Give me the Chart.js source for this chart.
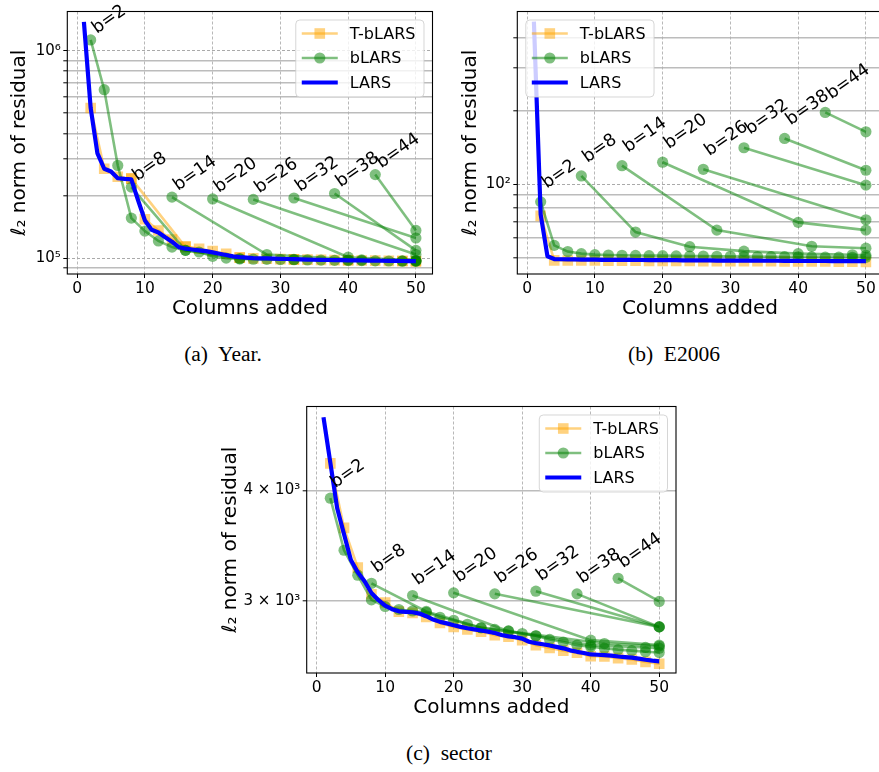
<!DOCTYPE html>
<html><head><meta charset="utf-8">
<script src="https://cdn.jsdelivr.net/npm/chart.js@4.4.1/dist/chart.umd.min.js"></script>
<style>
html,body{margin:0;padding:0;background:#fff;overflow:hidden;width:879px;height:772px;}
.panel{position:absolute;}
.panel canvas{display:block;}
.cap{position:absolute;font-family:"Liberation Serif","Times New Roman",serif;font-size:20.5px;color:#000;white-space:pre;transform:translate(-50%,-50%) scaleX(1.05);}
</style></head><body>
<div class="panel" style="left:0px;top:0px;"><canvas id="cA" width="440" height="330"></canvas></div>
<div class="panel" style="left:440px;top:0px;"><canvas id="cB" width="450" height="330"></canvas></div>
<div class="panel" style="left:205px;top:395px;"><canvas id="cC" width="480" height="334"></canvas></div>
<div class="cap" style="left:223px;top:354px;">(a)  Year.</div>
<div class="cap" style="left:674px;top:354px;">(b)  E2006</div>
<div class="cap" style="left:449px;top:753px;">(c)  sector</div>
<script>
// ---------------- data ----------------
const columns = [1,2,3,4,5,6,7,8,9,10,11,12,13,14,15,16,17,18,19,20,21,22,23,24,25,26,27,28,29,30,31,32,33,34,35,36,37,38,39,40,41,42,43,44,45,46,47,48,49,50];
const xTicks = [0,10,20,30,40,50];
const blocks = [2,8,14,20,26,32,38,44];
const runCols2 = [2,4,6,8,10,12,14,16,18,20,22,24,26,28,30,32,34,36,38,40,42,44,46,48,50];
const runCols8 = [8,16,24,32,40,48,50];
const runCols14 = [14,28,42,50];
const runCols20 = [20,40,50];
const runCols26 = [26,50];
const runCols32 = [32,50];
const runCols38 = [38,50];
const runCols44 = [44,50];

// (a) Year
const yearLARS = [1380000,530000,320000,270000,262000,243000,241000,240000,190000,152000,137000,133000,126000,120000,113000,111000,110000,109000,108000,106500,105000,103500,102000,101000,100500,100000,99800,99600,99400,99200,99000,98800,98600,98400,98200,98000,97900,97800,97700,97600,97500,97400,97300,97200,97100,97000,96900,96800,96700,96600];
const yearTb2 = [530000,270000,247000,242000,154000,136000,123000,114000,111000,108000,105000,100500,99700,99300,98900,98600,98300,98000,97800,97600,97400,97200,97000,96800,96500];
const yearTb8 = [242000,113000,100500,98600,97600,96800,96500];
const yearB2 = [1130000,650000,280000,156000,135000,121000,113000,109000,107000,102000,100000,99000,98800,98600,98400,98200,98000,97800,97600,97400,97200,97000,96800,96600,96400];
const yearB8 = [220000,109000,99500,98500,97800,97000,96800];
const yearB14 = [197000,104000,98000,97000];
const yearB20 = [193000,101000,97500];
const yearB26 = [192000,104000];
const yearB32 = [195000,125000];
const yearB38 = [205000,109000];
const yearB44 = [253000,136000];
const yTicksYear = [90000,100000,200000,300000,400000,500000,600000,700000,800000,900000,1000000];
const yLabelsYear = ['','10\u2075','','','','','','','','','10\u2076'];

// (b) E2006
const e2006LARS = [465,75,50.5,49.2,49.1,49.0,49.0,48.95,48.9,48.9,48.85,48.85,48.8,48.8,48.8,48.75,48.75,48.7,48.7,48.7,48.65,48.65,48.6,48.6,48.6,48.55,48.55,48.5,48.5,48.5,48.5,48.45,48.45,48.45,48.4,48.4,48.4,48.35,48.35,48.35,48.3,48.3,48.3,48.3,48.25,48.25,48.25,48.2,48.2,48.2];
const e2006Tb2 = [74,48.6,48.55,48.5,48.5,48.45,48.4,48.4,48.35,48.35,48.3,48.3,48.25,48.25,48.2,48.2,48.15,48.15,48.1,48.1,48.05,48.05,48.0,48.0,47.9];
const e2006B2 = [84.5,56,52.8,51.8,51.3,51.1,51.0,50.9,50.8,50.8,50.7,50.6,50.6,50.5,50.5,50.4,50.4,50.3,50.3,50.2,50.2,50.1,50.1,50.0,50.0];
const e2006B8 = [108,63.5,55.3,53.0,51.8,51.2,51.0];
const e2006B14 = [119,64.7,55.5,54.5];
const e2006B20 = [123,69.6,64.7];
const e2006B26 = [115,71.3];
const e2006B32 = [141,99];
const e2006B38 = [154,114];
const e2006B44 = [197,164];
const yTicksE2006 = [50,60,70,80,90,100,200,300,400];
const yLabelsE2006 = ['','','','','','10\u00b2','','',''];

// (c) sector
const sectorLARS = [4840,4300,3820,3570,3340,3235,3160,3065,3010,2965,2938,2922,2918,2915,2905,2885,2860,2843,2832,2818,2806,2796,2788,2780,2772,2762,2748,2738,2732,2722,2700,2690,2682,2674,2664,2654,2640,2630,2622,2612,2610,2608,2604,2598,2594,2590,2584,2576,2570,2566];
const sectorTb2 = [4293,3630,3274,3055,2990,2920,2910,2880,2835,2806,2788,2772,2746,2735,2711,2675,2657,2638,2624,2600,2598,2587,2578,2562,2550];
const sectorB2 = [3922,3425,3210,3011,2959,2936,2925,2915,2877,2855,2825,2800,2788,2777,2758,2742,2716,2698,2676,2665,2655,2645,2638,2630,2625];
const sectorB8 = [3143,2921,2800,2742,2676,2660,2655];
const sectorB14 = [3045,2775,2687,2670];
const sectorB20 = [3066,2711,2676];
const sectorB26 = [3058,2806];
const sectorB32 = [3079,2806];
const sectorB38 = [3058,2806];
const sectorB44 = [3184,2998];
const yTicksSector = [3000,4000];
const yLabelsSector = ['3 \u00d7 10\u00b3','4 \u00d7 10\u00b3'];

const xLabel = 'Columns added';
const yLabel = '\u2113\u2082 norm of residual';

// ---------------- styling ----------------
const BLUE = '#0000ff';
const GREEN = 'rgba(0,128,0,0.5)';
const ORANGE = 'rgba(255,165,0,0.5)';
const FONT = '"DejaVu Sans", sans-serif';

function isMajor(v){ const l = Math.log10(v); return Math.abs(l - Math.round(l)) < 1e-9; }

const framePlugin = {
  id: 'frameAndNotes',
  afterDatasetsDraw(chart, args, opts) {
    const ctx = chart.ctx, ca = chart.chartArea;
    ctx.save();
    ctx.strokeStyle = '#000'; ctx.lineWidth = 1.1;
    ctx.strokeRect(ca.left, ca.top, ca.right - ca.left, ca.bottom - ca.top);
    ctx.fillStyle = '#000';
    ctx.font = '17.5px ' + FONT;
    ctx.textAlign = 'left'; ctx.textBaseline = 'alphabetic';
    chart.data.datasets.forEach((ds, i) => {
      if (!ds.bLabel) return;
      const pt = chart.getDatasetMeta(i).data[0];
      ctx.save();
      ctx.translate(pt.x + opts.dx, pt.y + opts.dy);
      ctx.rotate(-35 * Math.PI / 180);
      ctx.fillText(ds.bLabel, 0, 0);
      ctx.restore();
    });
    ctx.restore();
  },
  afterDraw(chart, args, opts) {
    const ctx = chart.ctx, ca = chart.chartArea;
    const seen = {}; const items = [];
    chart.data.datasets.slice().sort((a,b)=>b.order-a.order).forEach(ds => {
      if (seen[ds.label]) return; seen[ds.label] = true; items.push(ds);
    });
    ctx.save();
    ctx.font = '16px ' + FONT;
    const tw = Math.max(...items.map(d => ctx.measureText(d.label).width));
    const w = 54 + tw + 8.5, h = 77;
    const x0 = opts.side === 'left' ? ca.left + 8.5 : ca.right - 8.5 - w;
    const y0 = ca.top + 8.5;
    ctx.beginPath();
    if (ctx.roundRect) ctx.roundRect(x0, y0, w, h, 4); else ctx.rect(x0, y0, w, h);
    ctx.fillStyle = 'rgba(255,255,255,0.8)'; ctx.fill();
    ctx.strokeStyle = 'rgba(204,204,204,0.8)'; ctx.lineWidth = 1; ctx.stroke();
    items.forEach((d, k) => {
      const y = y0 + 13.5 + k * 24.5;
      ctx.beginPath(); ctx.moveTo(x0 + 6, y); ctx.lineTo(x0 + 42, y);
      ctx.strokeStyle = d.borderColor; ctx.lineWidth = d.borderWidth; ctx.stroke();
      if (d.pointRadius > 0) {
        ctx.fillStyle = d.backgroundColor;
        ctx.beginPath();
        if (d.pointStyle === 'rect') { const s = d.pointRadius * Math.SQRT1_2; ctx.rect(x0 + 24 - s, y - s, 2*s, 2*s); }
        else ctx.arc(x0 + 24, y, d.pointRadius, 0, Math.PI*2);
        ctx.fill();
      }
      ctx.fillStyle = '#000'; ctx.textAlign = 'left'; ctx.textBaseline = 'middle';
      ctx.fillText(d.label, x0 + 54, y + 1);
    });
    ctx.restore();
  }
};

function makeChart(canvasId, p) {
  const datasets = [];
  datasets.push({label:'LARS', data: columns.map((c,i)=>({x:c, y:p.lars[i]})), borderColor:BLUE, backgroundColor:BLUE,
    borderWidth:4.2, pointRadius:0, borderJoinStyle:'round', order:0});
  p.bRuns.forEach(r => datasets.push({label:'bLARS', bLabel:'b=' + r.b, data: r.cols.map((c,i)=>({x:c, y:r.vals[i]})),
    borderColor:GREEN, backgroundColor:GREEN, borderWidth:2.6, pointRadius:5.6, pointStyle:'circle', pointBorderWidth:0, order:1}));
  p.tRuns.forEach(r => datasets.push({label:'T-bLARS', data: r.cols.map((c,i)=>({x:c, y:r.vals[i]})),
    borderColor:ORANGE, backgroundColor:ORANGE, borderWidth:2.6, pointRadius:7.5, pointStyle:'rect', pointBorderWidth:0, order:2}));

  new Chart(document.getElementById(canvasId), {
    type: 'line',
    data: { datasets },
    options: {
      responsive:false, animation:false, devicePixelRatio:1,
      layout: { padding: { top:p.padTop, right:p.padRight, left:0, bottom:0 } },
      plugins: { legend:{display:false}, tooltip:{enabled:false},
        frameAndNotes: { side:p.legendSide, dx:p.dx, dy:p.dy } },
      scales: {
        x: {
          type:'linear', min:-1.45, max:52.45,
          afterBuildTicks: s => { s.ticks = xTicks.map(v => ({value:v})); },
          afterFit: s => { s.height = 56; },
          ticks: { font:{family:FONT, size:15.5}, color:'#000', padding:2, maxRotation:0, autoSkip:false },
          grid: { color:'rgba(176,176,176,0.9)', lineWidth:1, tickColor:'#000', tickLength:4, tickWidth:1 },
          border: { display:false, dash: [3,2] },
          title: { display:true, text:xLabel, font:{family:FONT, size:20}, color:'#000', padding:{top:0, bottom:9.5} }
        },
        y: {
          type:'logarithmic', min:p.yMin, max:p.yMax,
          afterBuildTicks: s => { s.ticks = p.yTicks.map(v => ({value:v, major:isMajor(v)})); },
          afterFit: s => { s.width = p.yWidth; },
          ticks: { font:{family:FONT, size:15}, color:'#000', padding:2.5, autoSkip:false,
            callback: (v) => { const k = p.yTicks.indexOf(v); return k >= 0 ? p.yLabels[k] : ''; } },
          grid: {
            color: c => (c.tick && isMajor(c.tick.value)) ? 'rgba(170,170,170,1)' : 'rgba(176,176,176,0.85)',
            lineWidth: c => (c.tick && isMajor(c.tick.value)) ? 1 : 1.6,
            tickColor:'#000', tickLength:4, tickWidth:1
          },
          border: { display:false, dash: c => (c.tick && isMajor(c.tick.value)) ? [3,2] : [] },
          title: { display:true, text:yLabel, font:{family:FONT, size:20}, color:'#000', padding:{top:p.yTitlePad, bottom:0} }
        }
      }
    },
    plugins: [framePlugin]
  });
}

makeChart('cA', {
  lars: yearLARS,
  bRuns: [
    {b:blocks[0], cols:runCols2, vals:yearB2}, {b:blocks[1], cols:runCols8, vals:yearB8},
    {b:blocks[2], cols:runCols14, vals:yearB14}, {b:blocks[3], cols:runCols20, vals:yearB20},
    {b:blocks[4], cols:runCols26, vals:yearB26}, {b:blocks[5], cols:runCols32, vals:yearB32},
    {b:blocks[6], cols:runCols38, vals:yearB38}, {b:blocks[7], cols:runCols44, vals:yearB44}],
  tRuns: [{cols:runCols2, vals:yearTb2}, {cols:runCols8, vals:yearTb8}],
  yMin:83800, yMax:1550000, yTicks:yTicksYear, yLabels:yLabelsYear,
  yWidth:67.3, padTop:4.3, padRight:3.7, yTitlePad:7.3, legendSide:'right', dx:6, dy:-6
});
makeChart('cB', {
  lars: e2006LARS,
  bRuns: [
    {b:blocks[0], cols:runCols2, vals:e2006B2}, {b:blocks[1], cols:runCols8, vals:e2006B8},
    {b:blocks[2], cols:runCols14, vals:e2006B14}, {b:blocks[3], cols:runCols20, vals:e2006B20},
    {b:blocks[4], cols:runCols26, vals:e2006B26}, {b:blocks[5], cols:runCols32, vals:e2006B32},
    {b:blocks[6], cols:runCols38, vals:e2006B38}, {b:blocks[7], cols:runCols44, vals:e2006B44}],
  tRuns: [{cols:runCols2, vals:e2006Tb2}],
  yMin:42.7, yMax:512, yTicks:yTicksE2006, yLabels:yLabelsE2006,
  yWidth:77.3, padTop:4.3, padRight:3.1, yTitlePad:18.3, legendSide:'left', dx:6, dy:-13
});
makeChart('cC', {
  lars: sectorLARS,
  bRuns: [
    {b:blocks[0], cols:runCols2, vals:sectorB2}, {b:blocks[1], cols:runCols8, vals:sectorB8},
    {b:blocks[2], cols:runCols14, vals:sectorB14}, {b:blocks[3], cols:runCols20, vals:sectorB20},
    {b:blocks[4], cols:runCols26, vals:sectorB26}, {b:blocks[5], cols:runCols32, vals:sectorB32},
    {b:blocks[6], cols:runCols38, vals:sectorB38}, {b:blocks[7], cols:runCols44, vals:sectorB44}],
  tRuns: [{cols:runCols2, vals:sectorTb2}],
  yMin:2489, yMax:4978, yTicks:yTicksSector, yLabels:yLabelsSector,
  yWidth:101.7, padTop:9, padRight:9, yTitlePad:13.3, legendSide:'right', dx:5, dy:-10
});
</script>
</body></html>
